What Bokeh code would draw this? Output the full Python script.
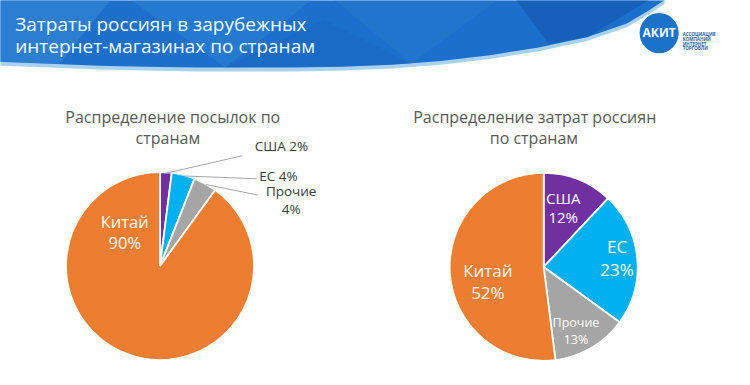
import numpy as np
from bokeh.plotting import figure
from bokeh.models import Range1d, ColumnDataSource
from bokeh.core.properties import value
from bokeh.embed import file_html
from bokeh.resources import INLINE

# ---------------- data ----------------
categories = ["США", "ЕС", "Прочие", "Китай"]
parcels_share = [2, 4, 4, 90]        # Распределение посылок по странам, %
spending_share = [12, 23, 13, 52]    # Распределение затрат россиян по странам, %
slice_colors = ["#7030A0", "#00B0F0", "#A5A5A5", "#ED7D31"]

header_title = ["Затраты россиян в зарубежных", "интернет-магазинах по странам"]
left_title = ["Распределение посылок по", "странам"]
right_title = ["Распределение  затрат россиян", "по странам"]

FONT = value("Open Sans")

def Y(v):
    # reference pixel row -> data y
    return 385 - v

p = figure(width=734, height=369, x_range=Range1d(0, 750), y_range=Range1d(0, 385),
           output_backend="svg", toolbar_location=None, min_border=0,
           x_axis_type=None, y_axis_type=None)
p.grid.visible = False
p.outline_line_color = None
p.background_fill_color = "white"
p.border_fill_color = "white"

# ---------------- header ----------------
curve_x = [-10, 0, 50, 100, 150, 200, 250, 300, 350, 400, 450, 500, 550, 600, 640, 660, 678]
curve_y = [63, 64, 66, 68, 69, 70, 70, 70, 69, 67, 63, 57, 49, 38, 24, 12, 0]
# light band under the curve
lx = curve_x + [684, -10]
ly = [v + 4 for v in curve_y] + [-10, -10]
p.patch(lx, [Y(v) for v in ly], fill_color="#a9d2f2", line_color=None)
hx = curve_x + [678, -10]
hy = curve_y + [-10, -10]
p.patch(hx, [Y(v) for v in hy], fill_color="#1c6fca", line_color=None)
# facets for the gradient look
facets = [
    ([-10, 120, 60, -10], [-10, -10, 66, 64], "#3a8ad9", 0.55),
    ([120, 330, 230], [-10, -10, 70], "#2f84d6", 0.45),
    ([330, 520, 420], [-10, -10, 66], "#2a80d4", 0.35),
    ([520, 678, 600, 560], [-10, -10, 38, 45], "#1357b0", 0.6),
    ([230, 420, 330], [70, 66, 20], "#1764c0", 0.35),
]
for fx, fy, fc, fa in facets:
    p.patch(fx, [Y(v) for v in fy], fill_color=fc, fill_alpha=fa, line_color=None)

p.text(x=[15, 15], y=[Y(24), Y(47)], text=header_title, text_font=FONT,
       text_font_size="19px", text_color="white", text_align="left", text_baseline="middle")

# logo
p.ellipse(x=[673], y=[Y(34)], width=40, height=42, fill_color="#1a73c8", line_color=None)
p.text(x=[673], y=[Y(33)], text=["АКИТ"], text_font=FONT, text_font_style="bold",
       text_font_size="12px", text_color="white", text_align="center", text_baseline="middle")
p.text(x=[697] * 4, y=[Y(35), Y(40), Y(45), Y(50)],
       text=["АССОЦИАЦИЯ", "КОМПАНИЙ", "ИНТЕРНЕТ", "ТОРГОВЛИ"], text_font=FONT,
       text_font_style="bold", text_font_size="4.5px", text_color="#2a5fa8",
       text_align="left", text_baseline="middle")

# ---------------- pies ----------------
def angles(vals):
    fr = np.array(vals, dtype=float) / sum(vals)
    cum = np.concatenate([[0.0], np.cumsum(fr)])
    start = np.pi / 2 - cum[:-1] * 2 * np.pi
    end = np.pi / 2 - cum[1:] * 2 * np.pi
    mid = (start + end) / 2
    return start, end, mid

R = 94        # screen px
RD = 97       # same radius in reference units (for leader line anchors)
pies = [(163, 277, parcels_share), (555, 278, spending_share)]
mids = []
for cx, cy, vals in pies:
    s, e, m = angles(vals)
    mids.append(m)
    src = ColumnDataSource(dict(start=s, end=e, color=slice_colors, cat=categories, val=vals))
    p.wedge(x=cx, y=Y(cy), radius=R, radius_units="screen", start_angle="start",
            end_angle="end", direction="clock", fill_color="color", line_color="white",
            line_width=1.8, source=src)

# titles
p.text(x=[176, 171], y=[Y(122), Y(143)], text=left_title, text_font=FONT,
       text_font_size="16px", text_color="#595959", text_align="center", text_baseline="middle")
p.text(x=[548, 545], y=[Y(122), Y(143)], text=right_title, text_font=FONT,
       text_font_size="16px", text_color="#595959", text_align="center", text_baseline="middle")

# left pie: outside labels with leader lines
lcx, lcy = pies[0][0], pies[0][1]
m0 = mids[0]
ends = [(247, 162), (262, 186), (263, 203)]
for i in range(3):
    sx = lcx + RD * np.cos(m0[i])
    sy = Y(lcy) + RD * np.sin(m0[i])
    p.line([sx, ends[i][0]], [sy, Y(ends[i][1])], line_color="#a6a6a6", line_width=1)

pct = [f"{v}%" for v in parcels_share]
p.text(x=[287, 284, 297, 297], y=[Y(152), Y(183), Y(199), Y(218)],
       text=[f"{categories[0]} {pct[0]}", f"{categories[1]} {pct[1]}", categories[2], pct[2]],
       text_font=FONT, text_font_size="13.5px", text_color="#404040",
       text_align="center", text_baseline="middle")
p.text(x=[127, 127], y=[Y(231), Y(253)], text=[categories[3], pct[3]], text_font=FONT,
       text_font_size="16.5px", text_color="white", text_align="center", text_baseline="middle")

# right pie: inside labels
rp = [f"{v}%" for v in spending_share]
p.text(x=[575, 575], y=[Y(206), Y(226)], text=[categories[0], rp[0]], text_font=FONT,
       text_font_size="15px", text_color="white", text_align="center", text_baseline="middle")
p.text(x=[630, 630], y=[Y(257), Y(281)], text=[categories[1], rp[1]], text_font=FONT,
       text_font_size="17px", text_color="white", text_align="center", text_baseline="middle")
p.text(x=[588, 588], y=[Y(336), Y(354)], text=[categories[2], rp[2]], text_font=FONT,
       text_font_size="12.5px", text_color="white", text_align="center", text_baseline="middle")
p.text(x=[498, 498], y=[Y(282), Y(305)], text=[categories[3], rp[3]], text_font=FONT,
       text_font_size="17px", text_color="white", text_align="center", text_baseline="middle")

open("out.html", "w").write(file_html(p, INLINE))
